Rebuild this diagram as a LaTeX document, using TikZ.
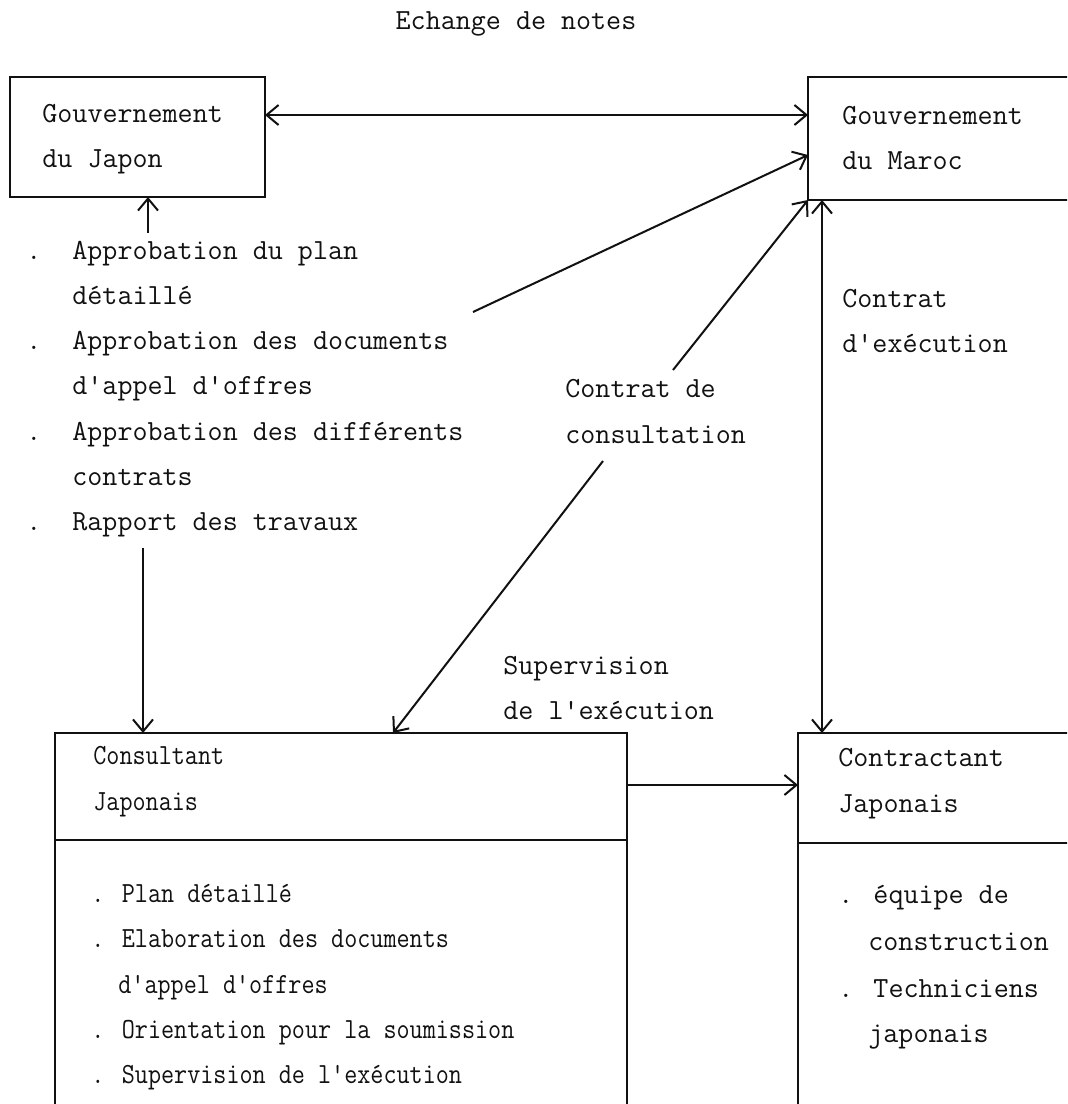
\documentclass[tikz,border=0pt]{standalone}
\usepackage{tikz}
\usetikzlibrary{arrows.meta,calc}
\definecolor{encre}{HTML}{111111}
\tikzset{
  fleche/.style={-{Straight Barb[length=6pt,width=10pt]},encre,line width=1pt},
  dfleche/.style={{Straight Barb[length=6pt,width=10pt]}-{Straight Barb[length=6pt,width=10pt]},encre,line width=1pt},
  boite/.style={draw=encre,line width=1pt,inner sep=0pt,outer sep=0pt,anchor=north west},
  trait/.style={encre,line width=1pt},
  txt/.style={anchor=base west,inner sep=0pt,encre,font=\fontsize{14.6pt}{17pt}\selectfont\ttfamily},
}
\newcommand{\serre}[1]{\scalebox{0.87}[1]{#1}}

\begin{document}
\begin{tikzpicture}[x=0.5pt,y=-0.5pt]
  \useasboundingbox (0,0) rectangle (1067,1104);
  \fill[white] (0,0) rectangle (1067,1104);
  \clip (0,0) rectangle (1067,1104);
  % boites
  \node[boite,minimum width=127.5pt,minimum height=60pt] (japon) at (10,77) {};
  \node[boite,minimum width=141pt,minimum height=61.5pt] (maroc) at (808,77) {};
  \node[boite,minimum width=286pt,minimum height=200pt] (consult) at (55,733) {};
  \node[boite,minimum width=150pt,minimum height=200pt] (contract) at (798,733) {};
  \draw[trait] ($(consult.north west)+(0,107)$) -- ($(consult.north east)+(0,107)$);
  \draw[trait] ($(contract.north west)+(0,110)$) -- ($(contract.north east)+(0,110)$);
  % textes
  \node[txt,anchor=base] (titre) at (516,29) {Echange de notes};
  \node[txt] (japon1) at (42,122) {Gouvernement};
  \node[txt] (japon2) at (42,167) {du Japon};
  \node[txt] (maroc1) at (842,124) {Gouvernement};
  \node[txt] (maroc2) at (842,169) {du Maroc};
  \foreach \t [count=\i] in {Approbation du plan,détaillé,Approbation des documents,d'appel d'offres,Approbation des différents,contrats,Rapport des travaux}
    \node[txt] (liste\i) at (72,{259+45.3*(\i-1)}) {\t};
  \foreach \i in {1,3,5,7}
    \node[txt] (puce\i) at (26,{259+45.3*(\i-1)}) {.};
  \node[txt] (cons1) at (565,397) {Contrat de};
  \node[txt] (cons2) at (565,443) {consultation};
  \node[txt] (exec1) at (842,307) {Contrat};
  \node[txt] (exec2) at (842,352) {d'exécution};
  \node[txt] (sup1) at (503,674) {Supervision};
  \node[txt] (sup2) at (503,719) {de l'exécution};
  \node[txt] (consult1) at (93,764) {\serre{Consultant}};
  \node[txt] (consult2) at (93,810) {\serre{Japonais}};
  \node[txt] (tache1) at (91,902) {\serre{. Plan détaillé}};
  \node[txt] (tache2) at (91,947) {\serre{. Elaboration des documents}};
  \node[txt] (tache3) at (118,993) {\serre{d'appel d'offres}};
  \node[txt] (tache4) at (91,1038) {\serre{. Orientation pour la soumission}};
  \node[txt] (tache5) at (91,1083) {\serre{. Supervision de l'exécution}};
  \node[txt] (contract1) at (838,766) {Contractant};
  \node[txt] (contract2) at (838,812) {Japonais};
  \node[txt] (equipe1) at (838,903) {. équipe de};
  \node[txt] (equipe2) at (868,950) {construction};
  \node[txt] (equipe3) at (838,997) {. Techniciens};
  \node[txt] (equipe4) at (868,1042) {japonais};
  % liaisons
  \coordinate (a2) at (473,312);
  \coordinate (a3) at (673,370);
  \coordinate (a4) at (603,461);
  \coordinate (a5) at (148,233);
  \coordinate (a6) at (143,548);
  \coordinate (v) at ($(maroc.south west)+(14,0)$);
  \coordinate (h) at ($(consult.north east)+(0,52)$);
  \draw[dfleche] ($(japon.north east)+(0,38)$) -- ($(maroc.north west)+(0,38)$);
  \draw[fleche] (a2) -- ($(maroc.north west)+(0,78)$);
  \draw[fleche] (a3) -- (maroc.south west);
  \draw[fleche] (a4) -- ($(consult.north west)+(338,0)$);
  \draw[fleche] (a5) -- (a5 |- japon.south);
  \draw[fleche] (a6) -- (a6 |- consult.north);
  \draw[dfleche] (v) -- (v |- contract.north);
  \draw[fleche] (h) -- (h -| contract.west);
\end{tikzpicture}
\end{document}
